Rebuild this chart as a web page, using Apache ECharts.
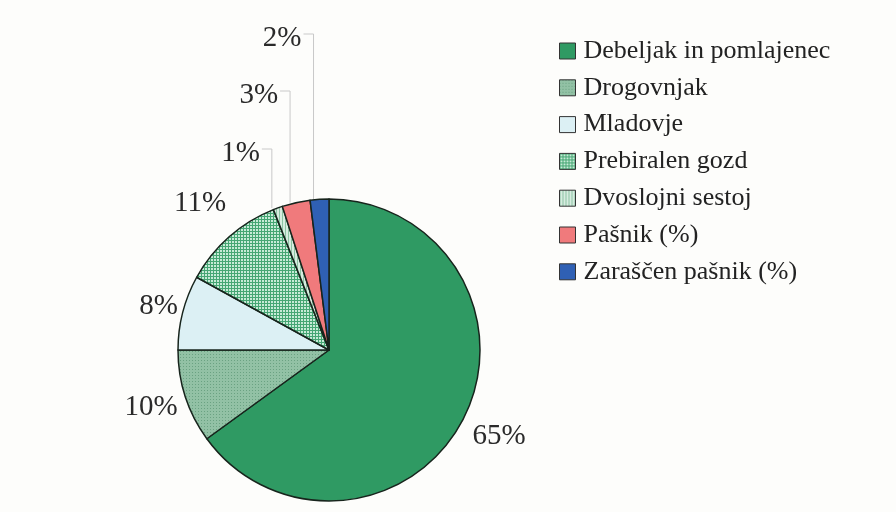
<!DOCTYPE html>
<html>
<head>
<meta charset="utf-8">
<script src="https://cdn.jsdelivr.net/npm/echarts@6/dist/echarts.min.js"></script>
<style>
  html, body { margin: 0; padding: 0; background: #fdfdfb; }
  #chart { width: 896px; height: 512px; }
</style>
</head>
<body>
<div id="chart"></div>
<script>
// podatki
const categories = ['Debeljak in pomlajenec', 'Drogovnjak', 'Mladovje', 'Prebiralen gozd', 'Dvoslojni sestoj', 'Pašnik (%)', 'Zaraščen pašnik (%)']
const shares = [65, 10, 8, 11, 1, 3, 2]

// vzorci za polnila
function tile (size, draw) {
  const c = document.createElement('canvas')
  c.width = size
  c.height = size
  draw(c.getContext('2d'))
  return { image: c, repeat: 'repeat' }
}
const dots = tile(3, g => {
  g.fillStyle = '#92c1a5'; g.fillRect(0, 0, 3, 3)
  g.fillStyle = '#6aa282'; g.fillRect(0, 0, 1, 1)
})
const grid = tile(3, g => {
  g.fillStyle = '#45a673'; g.fillRect(0, 0, 3, 3)
  g.fillStyle = '#c6ead6'; g.fillRect(1, 1, 2, 2)
})
const stripes = tile(3, g => {
  g.fillStyle = '#d6ecdf'; g.fillRect(0, 0, 3, 3)
  g.fillStyle = '#8cc3a3'; g.fillRect(0, 0, 1, 3)
})
const colors = ['#2f9a63', dots, '#dcf0f4', grid, stripes, '#f07a7c', '#2f60b4']

const cx = 329, cy = 350, R = 151
const total = shares.reduce((a, b) => a + b, 0)
function midAngle (i) {
  let before = 0
  for (let k = 0; k < i; k++) before += shares[k]
  return (before + shares[i] / 2) / total * Math.PI * 2
}
// razmik oznak od roba (večji deleži) in višine oznak z vodilnimi črtami (majhni deleži)
const labelGap = { 0: 40, 1: 36, 2: 25, 3: 44 }
const leaderY = { 4: 153, 5: 95, 6: 38 }

let chart = echarts.init(document.getElementById('chart'))
chart.setOption({
  backgroundColor: '#fdfdfb',
  animation: false,
  legend: {
    orient: 'vertical',
    left: 554,
    top: 33,
    itemWidth: 16,
    itemHeight: 16,
    itemGap: 10.8,
    icon: 'rect',
    itemStyle: { borderColor: '#333', borderWidth: 1 },
    textStyle: {
      fontFamily: 'Liberation Serif',
      fontSize: 26,
      color: '#222',
      padding: [0, 0, 0, 3]
    },
    data: categories
  },
  series: [{
    type: 'pie',
    center: [cx, cy],
    radius: R,
    startAngle: 90,
    clockwise: true,
    avoidLabelOverlap: false,
    itemStyle: { borderColor: '#17241c', borderWidth: 1.5 },
    label: {
      show: true,
      position: 'outside',
      formatter: '{c}%',
      fontFamily: 'Liberation Serif',
      fontSize: 29,
      color: '#2a2a2a'
    },
    labelLine: {
      show: true,
      lineStyle: { color: '#c9c9c9', width: 1 }
    },
    labelLayout: function (params) {
      const i = params.dataIndex
      const a = midAngle(i)
      const dx = Math.sin(a), dy = -Math.cos(a)
      if (leaderY[i] === undefined) {
        const d = R + labelGap[i]
        return {
          x: cx + dx * d,
          y: cy + dy * d,
          align: 'center',
          verticalAlign: 'middle'
        }
      }
      const sx = cx + dx * R - 6
      const sy = cy + dy * R
      const ly = leaderY[i]
      return {
        x: sx - 12,
        y: ly,
        align: 'right',
        verticalAlign: 'middle',
        labelLinePoints: [[sx, sy], [sx, ly - 4], [sx - 10, ly - 4]]
      }
    },
    data: categories.map((name, i) => ({
      name: name,
      value: shares[i],
      itemStyle: { color: colors[i] },
      labelLine: { show: leaderY[i] !== undefined }
    }))
  }]
})
</script>
</body>
</html>
